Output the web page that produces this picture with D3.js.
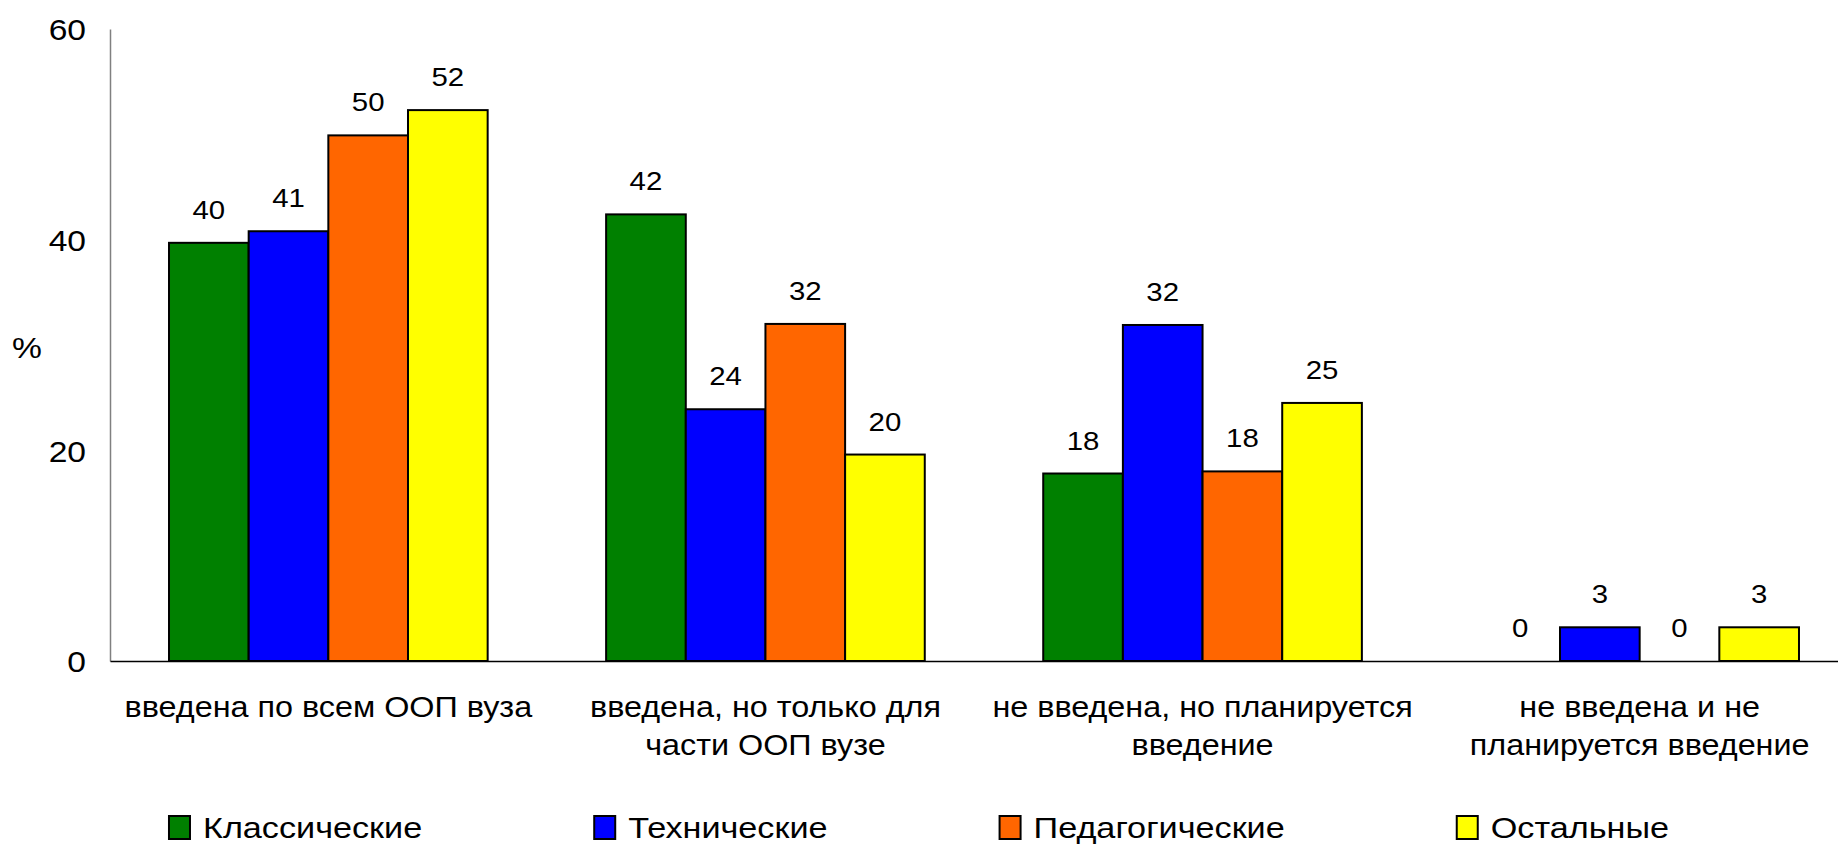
<!DOCTYPE html>
<html>
<head>
<meta charset="utf-8">
<script src="https://cdn.jsdelivr.net/npm/d3@7"></script>
<style>
  html, body { margin: 0; padding: 0; background: #fff; }
  svg { display: block; }
  text { font-family: "Liberation Sans", Arial, sans-serif; fill: #000; }
</style>
</head>
<body>
<svg id="chart" width="1838" height="845"></svg>
<script>
// ---- data ----
const categories = [
  "введена по всем ООП вуза",
  "введена, но только для\nчасти ООП вузе",
  "не введена, но планируется\nвведение",
  "не введена и не\nпланируется введение"
];
const seriesNames = ["Классические", "Технические", "Педагогические", "Остальные"];
const classicValues  = [39.7, 42.4, 17.8, 0];
const technicValues  = [40.8, 23.9, 31.9, 3.2];
const pedagogValues  = [49.9, 32.0, 18.0, 0];
const otherValues    = [52.3, 19.6, 24.5, 3.2];
const yTicks = [0, 20, 40, 60];
const yLabel = "%";

// ---- style/layout ----
const colors = ["#008000", "#0000FF", "#FF6600", "#FFFF00"];
const W = 1838, H = 845;
const axisX = 110, yTop = 29, yBase = 661;

const series = [classicValues, technicValues, pedagogValues, otherValues];
const table = categories.map((c, i) => ({
  cat: c,
  vals: series.map((s, j) => ({ key: seriesNames[j], value: s[i], color: colors[j] }))
}));

const svg = d3.select("#chart");

const y = d3.scaleLinear().domain([0, 60]).range([yBase, yTop]);
const x0 = d3.scaleBand().domain(categories).range([axisX, 1858])
  .paddingInner(0.271).paddingOuter(0.135);
const x1 = d3.scaleBand().domain(seriesNames).range([0, x0.bandwidth()]).padding(0);

// widen glyphs horizontally (the original is stretched)
function widen(sel, sx) {
  sel.each(function() {
    const L = this.getComputedTextLength();
    d3.select(this).attr("textLength", L * sx).attr("lengthAdjust", "spacingAndGlyphs");
  });
}

// bars
const groups = svg.append("g").selectAll("g").data(table).join("g")
  .attr("transform", d => `translate(${x0(d.cat)},0)`);

groups.selectAll("rect").data(d => d.vals.filter(v => v.value > 0)).join("rect")
  .attr("x", d => x1(d.key))
  .attr("y", d => y(d.value))
  .attr("width", x1.bandwidth())
  .attr("height", d => y(0) - y(d.value))
  .attr("fill", d => d.color)
  .attr("stroke", "#000")
  .attr("stroke-width", 2);

// data labels
groups.selectAll("text.val").data(d => d.vals).join("text")
  .attr("class", "val")
  .attr("text-anchor", "middle")
  .style("font-size", "26px")
  .attr("x", d => x1(d.key) + x1.bandwidth() / 2)
  .attr("y", d => y(d.value) - 24)
  .text(d => d3.format(".0f")(d.value))
  .call(widen, 1.13);

// y axis
const yAxis = svg.append("g").attr("transform", `translate(${axisX},0)`)
  .call(d3.axisLeft(y).tickValues(yTicks).tickSize(0).tickSizeOuter(0).tickPadding(24));
yAxis.select(".domain").attr("stroke", "#808080").attr("stroke-width", 1.5);
yAxis.selectAll(".tick text")
  .style("font-size", "30px").style("font-family", "'Liberation Sans', Arial, sans-serif")
  .attr("fill", "#000")
  .attr("dy", "0.36em")
  .call(widen, 1.12);

// x axis
const xAxis = svg.append("g").attr("transform", `translate(0,${yBase})`)
  .call(d3.axisBottom(x0).tickSize(0).tickSizeOuter(0).tickFormat(""));
xAxis.select(".domain").attr("stroke", "#000").attr("stroke-width", 1.5);

// category labels
categories.forEach(c => {
  const lines = c.split("\n");
  lines.forEach((ln, i) => {
    svg.append("text").attr("text-anchor", "middle").style("font-size", "29px")
      .attr("x", x0(c) + x0.bandwidth() / 2)
      .attr("y", 717 + i * 38)
      .text(ln)
      .call(widen, 1.115);
  });
});

// y label
svg.append("text").attr("text-anchor", "middle").style("font-size", "30px")
  .attr("x", 27).attr("y", 358).text(yLabel).call(widen, 1.12);

// legend
const legend = svg.append("g");
const boxW = 21, boxH = 23, boxGap = 13, itemGap = 172;
const items = seriesNames.map((n, i) => {
  const g = legend.append("g");
  g.append("rect").attr("width", boxW).attr("height", boxH)
    .attr("y", 816).attr("fill", colors[i]).attr("stroke", "#000").attr("stroke-width", 2);
  const t = g.append("text").style("font-size", "30px").attr("y", 838).text(n);
  t.call(widen, 1.14);
  return { g, t, w: +t.attr("textLength") };
});
const total = d3.sum(items, d => boxW + boxGap + d.w) + itemGap * (items.length - 1);
let cx = W / 2 - total / 2;
items.forEach(it => {
  it.g.select("rect").attr("x", cx);
  it.t.attr("x", cx + boxW + boxGap);
  cx += boxW + boxGap + it.w + itemGap;
});
</script>
</body>
</html>
